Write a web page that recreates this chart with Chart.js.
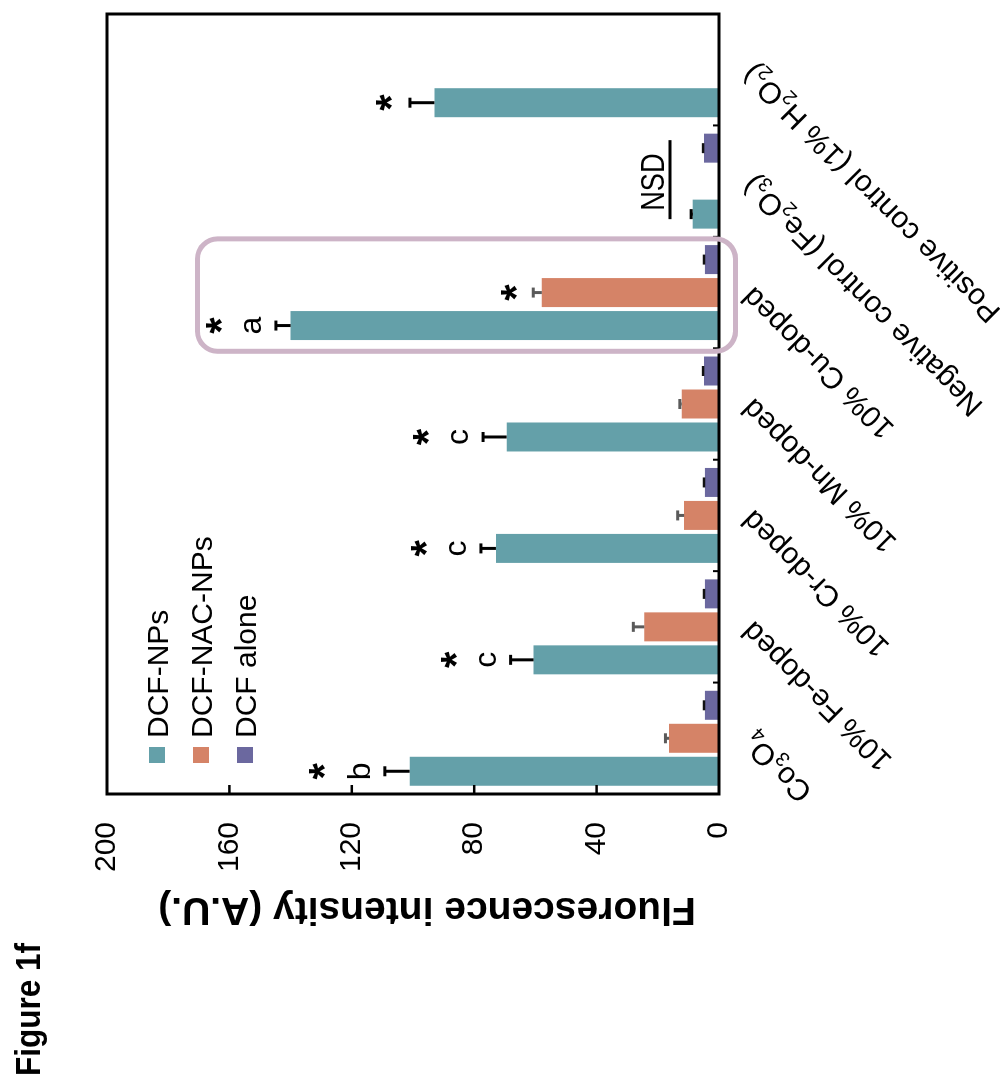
<!DOCTYPE html>
<html>
<head>
<meta charset="utf-8">
<script src="https://cdn.jsdelivr.net/npm/chart.js@4.4.1/dist/chart.umd.min.js"></script>
<style>
  html, body { margin: 0; padding: 0; background: #fff; width: 1000px; height: 1080px; overflow: hidden; }
  /* the figure is laid out landscape and turned a quarter turn counter-clockwise */
  #figure { position: absolute; left: -40px; top: 40px; width: 1080px; height: 1000px;
            transform: rotate(-90deg); transform-origin: 50% 50%; background: #fff; }
  canvas { display: block; }
</style>
</head>
<body>
<div id="figure"><canvas id="chart" width="1080" height="1000"></canvas></div>
<script>
// ---- data ----
const categories = ['Co₃O₄', '10% Fe-doped', '10% Cr-doped', '10% Mn-doped', '10% Cu-doped',
                    'Negative control (Fe₂O₃)', 'Positive control (1% H₂O₂)'];
const seriesNames = ['DCF-NPs', 'DCF-NAC-NPs', 'DCF alone'];
const dcfNps       = [101.1, 60.6, 72.9, 69.4, 140.0, 8.6, 93.0];
const dcfNpsErr    = [8.1, 7.5, 4.9, 7.7, 4.8, 0.5, 8.0];
const dcfNacNps    = [16.3, 24.4, 11.4, 12.2, 57.9, null, null];
const dcfNacNpsErr = [1.2, 3.6, 2.1, 0.6, 2.8, null, null];
const dcfAlone     = [4.6, 4.6, 4.6, 4.9, 4.6, 4.9, null];
const dcfAloneErr  = [0.3, 0.3, 0.3, 0.3, 0.3, 0.3, null];
const valueTicks   = [0, 40, 80, 120, 160, 200];
const npsLetters   = ['b', 'c', 'c', 'c', 'a', '', ''];
const npsStars     = [true, true, true, true, true, false, true];
const nacStars     = [false, false, false, false, true, false, false];
const nsdLevel     = 16;
const highlightTop = 170.4;
const yTitle = 'Fluorescence intensity (A.U.)';
const figureLabel = 'Figure 1f';

// ---- styling ----
const FONT = "'Liberation Sans', Arial, Helvetica, sans-serif";
const COLORS = ['#64a0a9', '#d58367', '#6b689f'];
const ERR_COLORS = ['#000000', '#5a5a5a', '#111111'];
const SUB = { '₀':'0','₁':'1','₂':'2','₃':'3','₄':'4','₅':'5','₆':'6','₇':'7','₈':'8','₉':'9' };

function splitSubscripts(text) {
  const parts = [];
  for (const ch of text) {
    const sub = SUB[ch] !== undefined;
    const c = sub ? SUB[ch] : ch;
    const last = parts[parts.length - 1];
    if (last && last.sub === sub) last.t += c; else parts.push({ t: c, sub });
  }
  return parts;
}

function drawStar(ctx, cx, cy) {
  ctx.font = `bold 42px ${FONT}`;
  ctx.textAlign = 'center';
  ctx.textBaseline = 'alphabetic';
  const m = ctx.measureText('*');
  ctx.fillText('*', cx, cy + (m.actualBoundingBoxAscent - m.actualBoundingBoxDescent) / 2);
}

const decor = {
  id: 'decor',
  afterDatasetsDraw(chart) {
    const { ctx, chartArea: a, scales: { x, y } } = chart;
    ctx.save();

    // error bars (upper half only)
    const errs = [dcfNpsErr, dcfNacNpsErr, dcfAloneErr];
    errs.forEach((err, di) => {
      const vals = chart.data.datasets[di].data;
      chart.getDatasetMeta(di).data.forEach((bar, i) => {
        if (vals[i] == null || err[i] == null) return;
        const top = y.getPixelForValue(vals[i] + err[i]);
        ctx.strokeStyle = ERR_COLORS[di];
        ctx.lineWidth = di === 2 ? 2.5 : 3;
        ctx.lineCap = 'butt';
        ctx.beginPath(); ctx.moveTo(bar.x, bar.y); ctx.lineTo(bar.x, top); ctx.stroke();
        ctx.beginPath(); ctx.moveTo(bar.x - 5, top); ctx.lineTo(bar.x + 5, top); ctx.stroke();
      });
    });

    // significance letters and stars
    ctx.fillStyle = '#000';
    chart.getDatasetMeta(0).data.forEach((bar, i) => {
      const cap = y.getPixelForValue(dcfNps[i] + dcfNpsErr[i]);
      let starY = cap - 26;
      if (npsLetters[i]) {
        ctx.font = `32px ${FONT}`;
        ctx.textAlign = 'center';
        ctx.textBaseline = 'alphabetic';
        const base = cap - 15;
        ctx.fillText(npsLetters[i], bar.x, base);
        starY = base - ctx.measureText(npsLetters[i]).actualBoundingBoxAscent - 30;
      }
      if (npsStars[i]) drawStar(ctx, bar.x, starY);
    });
    chart.getDatasetMeta(1).data.forEach((bar, i) => {
      if (!nacStars[i]) return;
      const cap = y.getPixelForValue(dcfNacNps[i] + dcfNacNpsErr[i]);
      drawStar(ctx, bar.x, cap - 24);
    });

    // NSD bracket between the two controls
    const nx = x.getPixelForValue(5);
    const ny = y.getPixelForValue(nsdLevel);
    ctx.strokeStyle = '#000';
    ctx.lineWidth = 3;
    ctx.beginPath(); ctx.moveTo(nx - 38, ny); ctx.lineTo(nx + 41, ny); ctx.stroke();
    ctx.save();
    ctx.translate(nx - 1, ny - 6);
    ctx.scale(0.8, 1);
    ctx.font = `34px ${FONT}`;
    ctx.textAlign = 'center';
    ctx.textBaseline = 'alphabetic';
    ctx.fillText('NSD', 0, 0);
    ctx.restore();

    // plot frame
    ctx.strokeStyle = '#000';
    ctx.lineWidth = 3;
    ctx.strokeRect(a.left, a.top, a.right - a.left, a.bottom - a.top);

    // inward value ticks
    ctx.lineWidth = 2.5;
    valueTicks.forEach(v => {
      if (v === 0 || v === 200) return;
      const py = y.getPixelForValue(v);
      ctx.beginPath(); ctx.moveTo(a.left, py); ctx.lineTo(a.left + 9, py); ctx.stroke();
    });
    // inward group separators
    ctx.lineWidth = 2;
    for (let i = 1; i < categories.length; i++) {
      const px = (x.getPixelForValue(i - 1) + x.getPixelForValue(i)) / 2;
      ctx.beginPath(); ctx.moveTo(px, a.bottom); ctx.lineTo(px, a.bottom - 6); ctx.stroke();
    }

    // category labels at -45 degrees, with subscripts
    categories.forEach((label, i) => {
      const parts = splitSubscripts(label);
      let total = 0;
      parts.forEach(p => {
        ctx.font = p.sub ? `20px ${FONT}` : `30px ${FONT}`;
        p.w = ctx.measureText(p.t).width;
        total += p.w;
      });
      ctx.save();
      ctx.translate(x.getPixelForValue(i), a.bottom + 28);
      ctx.rotate(-Math.PI / 4);
      ctx.textAlign = 'left';
      ctx.textBaseline = 'alphabetic';
      let cx = -total;
      parts.forEach(p => {
        ctx.font = p.sub ? `20px ${FONT}` : `30px ${FONT}`;
        ctx.fillText(p.t, cx, p.sub ? 17 : 10);
        cx += p.w;
      });
      ctx.restore();
    });

    // legend
    seriesNames.forEach((name, k) => {
      const cy = a.top + 50 + k * 44;
      ctx.fillStyle = COLORS[k];
      ctx.fillRect(a.left + 31, cy - 8, 16, 16);
      ctx.fillStyle = '#000';
      ctx.font = `30px ${FONT}`;
      ctx.textAlign = 'left';
      ctx.textBaseline = 'alphabetic';
      ctx.fillText(name, a.left + 56, cy + 11);
    });

    // axis title
    ctx.save();
    ctx.translate(a.left - 104, (a.top + a.bottom) / 2 + 14);
    ctx.rotate(-Math.PI / 2);
    ctx.font = `bold 39px ${FONT}`;
    ctx.textAlign = 'center';
    ctx.textBaseline = 'alphabetic';
    ctx.fillText(yTitle, 0, 0);
    ctx.restore();

    // figure label
    ctx.save();
    ctx.translate(4, 40);
    ctx.scale(0.9, 1);
    ctx.font = `bold 35px ${FONT}`;
    ctx.textAlign = 'left';
    ctx.textBaseline = 'alphabetic';
    ctx.fillText(figureLabel, 0, 0);
    ctx.restore();

    // highlight around the Cu-doped group
    const cu = x.getPixelForValue(4);
    const half = (x.getPixelForValue(1) - x.getPixelForValue(0)) / 2;
    const bx0 = cu - half - 3, bx1 = cu + half - 2;
    const by0 = y.getPixelForValue(highlightTop), by1 = a.bottom + 16.5;
    ctx.strokeStyle = '#cdb4c7';
    ctx.lineWidth = 5;
    ctx.beginPath();
    ctx.roundRect(bx0, by0, bx1 - bx0, by1 - by0, 20);
    ctx.stroke();

    ctx.restore();
  }
};

const pct = { categoryPercentage: 0.888, barPercentage: 0.879 };

new Chart(document.getElementById('chart'), {
  type: 'bar',
  data: {
    labels: categories,
    datasets: [
      { label: seriesNames[0], data: dcfNps, backgroundColor: COLORS[0], ...pct },
      { label: seriesNames[1], data: dcfNacNps, backgroundColor: COLORS[1], ...pct },
      { label: seriesNames[2], data: dcfAlone, backgroundColor: COLORS[2], ...pct }
    ]
  },
  options: {
    responsive: false,
    animation: false,
    devicePixelRatio: 1,
    layout: { padding: { left: 0, top: 107, right: 14, bottom: 0 } },
    plugins: { legend: { display: false }, tooltip: { enabled: false } },
    scales: {
      x: {
        grid: { display: false },
        border: { display: false },
        ticks: { display: false },
        afterFit(scale) { scale.height = 281; }
      },
      y: {
        min: 0,
        max: 200,
        afterBuildTicks(scale) { scale.ticks = valueTicks.map(v => ({ value: v })); },
        grid: { display: false, drawTicks: false },
        border: { display: false },
        ticks: { padding: 28, color: '#000', font: { size: 30, family: FONT } },
        afterFit(scale) { scale.width = 286; }
      }
    }
  },
  plugins: [decor]
});
</script>
</body>
</html>
